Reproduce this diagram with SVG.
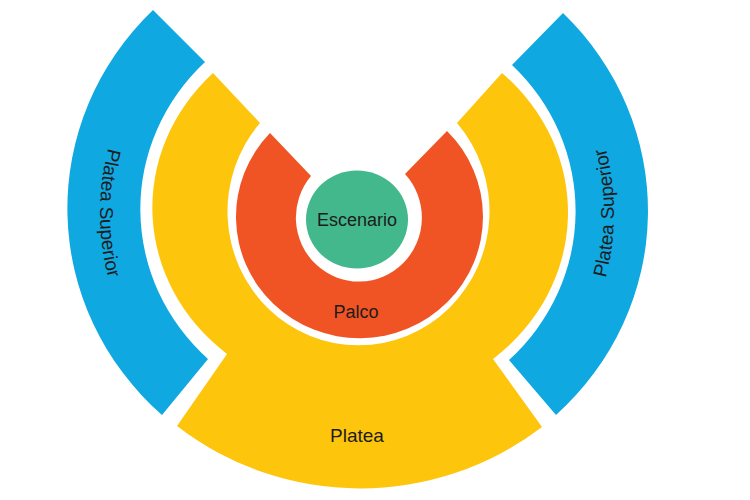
<svg xmlns="http://www.w3.org/2000/svg" width="750" height="500" viewBox="0 0 750 500">
  <style>
    .blue { fill: #0FA8E0; }
    .yellow { fill: #FDC50C; }
    .orange { fill: #F05424; }
    .green { fill: #43B88C; }
    .lbl { font-family: "Liberation Sans", Arial, sans-serif; fill: #1c1c1c; }
  </style>
  <defs>
    <path id="arcL" d="M229,-10.4 A258,258 0 0 0 229,436.4"/>
    <path id="arcR" d="M486,434.7 A256,256 0 0 0 486,-8.7"/>
  </defs>
  <rect x="0" y="0" width="750" height="500" fill="#ffffff"/>

  <g id="platea-superior-izq">
    <path class="blue" d="M153,10 A291,280 0 0 0 162,415 L208,359 A213,205 0 0 1 205,62 Z"/>
    <text class="lbl" font-size="19"><textPath href="#arcL" startOffset="50%" text-anchor="middle">Platea Superior</textPath></text>
  </g>

  <g id="platea-superior-der">
    <path class="blue" d="M563,13 A291,280 0 0 1 556,415 L509,360 A213,205 0 0 0 512,65 Z"/>
    <text class="lbl" font-size="19"><textPath href="#arcR" startOffset="50%" text-anchor="middle">Platea Superior</textPath></text>
  </g>

  <g id="platea">
    <path class="yellow" d="M213,73 A206,190 0 0 0 227,354 L177,426 A300,300 0 0 0 542,427 L493,359 A206,190 0 0 0 502,73 L457,123 A131,134 0 1 1 260,123 Z"/>
    <text class="lbl" x="357" y="442" font-size="19" text-anchor="middle">Platea</text>
  </g>

  <g id="palco">
    <path class="orange" d="M270,133 A123.5,121.5 0 1 0 447,131 L405,174 A63,64 0 1 1 311,176 Z"/>
    <text class="lbl" x="356" y="318" font-size="18" text-anchor="middle">Palco</text>
  </g>

  <g id="escenario">
    <ellipse class="green" cx="357" cy="219.5" rx="51" ry="49"/>
    <text class="lbl" x="357" y="226" font-size="18" text-anchor="middle">Escenario</text>
  </g>
</svg>
